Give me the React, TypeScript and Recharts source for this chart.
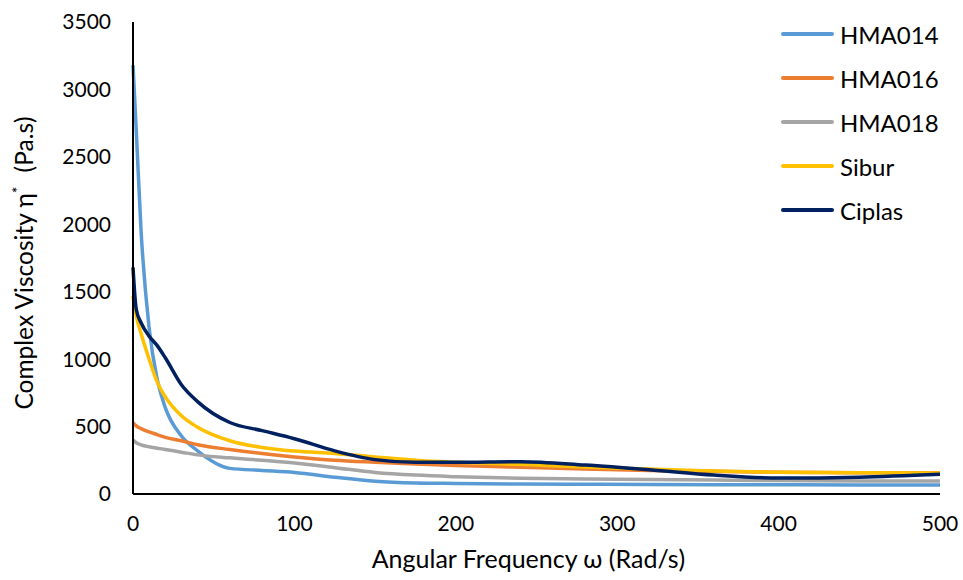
import React from 'react';
import { LineChart, Line, XAxis, YAxis, Legend } from 'recharts';

const frequency = [0, 2, 5, 10, 15, 20, 30, 40, 60, 80, 100, 125, 150, 175, 200, 240, 280, 320, 360, 400, 450, 500];
const hma014 = [3180, 2700, 1950, 1230, 850, 640, 430, 320, 190, 175, 160, 125, 95, 82, 78, 74, 72, 70, 69, 68, 67, 67];
const hma016 = [530, 505, 485, 460, 440, 420, 395, 365, 330, 300, 275, 250, 235, 222, 212, 198, 185, 175, 168, 162, 158, 158];
const hma018 = [400, 380, 365, 350, 340, 330, 310, 290, 268, 250, 230, 195, 160, 140, 128, 116, 112, 108, 104, 100, 97, 96];
const sibur = [1470, 1320, 1190, 1000, 830, 720, 580, 495, 395, 345, 318, 300, 275, 250, 235, 220, 200, 185, 170, 162, 157, 155];
const ciplas = [1680, 1370, 1270, 1170, 1100, 1010, 810, 685, 530, 470, 410, 320, 255, 235, 235, 240, 215, 180, 140, 118, 125, 146];

const seriesNames = ['HMA014', 'HMA016', 'HMA018', 'Sibur', 'Ciplas'];
const seriesColors = ['#5B9BD5', '#ED7D31', '#A5A5A5', '#FFC000', '#002060'];
const seriesValues = [hma014, hma016, hma018, sibur, ciplas];
const xTicks = [0, 100, 200, 300, 400, 500];
const yTicks = [0, 500, 1000, 1500, 2000, 2500, 3000, 3500];

const data = frequency.map((f, i) => {
  const row: Record<string, number> = { f };
  seriesNames.forEach((n, k) => {
    row[n] = seriesValues[k][i];
  });
  return row;
});

const FONT = 'Lato, "Open Sans", sans-serif';

const LegendContent = () => (
  <div style={{ fontFamily: FONT }}>
    {seriesNames.map((n, i) => (
      <div key={n} style={{ display: 'flex', alignItems: 'center', height: 44 }}>
        <div style={{ width: 53, height: 4, background: seriesColors[i], borderRadius: 2, marginRight: 6 }} />
        <span style={{ fontSize: 24, color: '#000' }}>{n}</span>
      </div>
    ))}
  </div>
);

const XLabel = (props: any) => {
  const { viewBox } = props;
  return (
    <text x={viewBox.x + viewBox.width / 2 - 8} y={568} textAnchor="middle" fontSize={25} fontFamily={FONT} fill="#000">
      Angular Frequency ω (Rad/s)
    </text>
  );
};

const YLabel = () => (
  <text x={0} y={0} transform="translate(33, 263) rotate(-90)" textAnchor="middle" fontSize={24.5} fontFamily={FONT} fill="#000">
    <tspan>Complex Viscosity η</tspan>
    <tspan dy={-10} fontSize={16}>*</tspan>
    <tspan dy={10} dx={14}>(Pa.s)</tspan>
  </text>
);

export default function App() {
  return (
    <div style={{ position: 'absolute', left: 0, top: 0, width: 963, height: 580, background: '#fff' }}>
      <LineChart width={963} height={580} data={data} margin={{ top: 22, right: 23, left: 0, bottom: 0 }}>
        <XAxis
          dataKey="f"
          type="number"
          domain={[0, 500]}
          ticks={xTicks}
          tickLine={false}
          tickSize={6}
          tickMargin={16}
          height={86}
          axisLine={{ stroke: '#000', strokeWidth: 2 }}
          tick={{ fontSize: 21, fontFamily: FONT, fill: '#000' }}
          label={<XLabel />}
        />
        <YAxis
          type="number"
          domain={[0, 3500]}
          ticks={yTicks}
          tickLine={false}
          tickSize={6}
          tickMargin={16}
          width={133}
          axisLine={{ stroke: '#000', strokeWidth: 2 }}
          tick={{ fontSize: 21, fontFamily: FONT, fill: '#000' }}
          label={<YLabel />}
        />
        <Legend
          layout="vertical"
          align="center"
          verticalAlign="middle"
          content={<LegendContent />}
          wrapperStyle={{ left: 781, top: 12, width: 182 }}
        />
        {seriesNames.map((n, i) => (
          <Line
            key={n}
            dataKey={n}
            type="monotone"
            stroke={seriesColors[i]}
            strokeWidth={3.5}
            dot={false}
            isAnimationActive={false}
          />
        ))}
      </LineChart>
    </div>
  );
}
